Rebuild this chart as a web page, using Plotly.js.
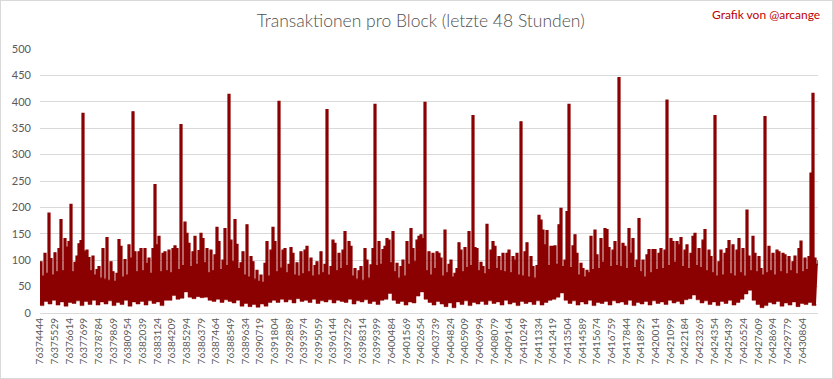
<!DOCTYPE html>
<html>
<head>
<meta charset="utf-8">
<script src="https://cdn.plot.ly/plotly-3.0.1.min.js"></script>
<style>
  html, body { margin: 0; padding: 0; background: #fff; }
  #chart { width: 833px; height: 379px; }
  #frame { position: absolute; left: 0; top: 0; width: 833px; height: 379px; box-sizing: border-box; border: 1px solid #d9d9d9; pointer-events: none; }
</style>
</head>
<body>
<div id="chart"></div>
<div id="frame"></div>
<script>
// ---- data ----
const chartTitle = "Transaktionen pro Block (letzte 48 Stunden)";
const creditText = "Grafik von @arcange";

const firstBlock = 76374444;
const highStep = 148;   // blocks between samples of the upper envelope
const lowStep = 296;    // blocks between samples of the lower envelope

// upper envelope (transactions per block, peaks)
const highs = [
  97,70,113,75,189,103,72,114,78,122,
  177,80,141,125,135,206,78,96,108,131,
  137,378,117,119,105,80,108,72,82,88,
  66,122,64,143,62,97,78,60,75,139,
  126,68,101,72,129,104,381,116,78,116,
  122,80,122,94,104,75,122,243,129,145,
  78,113,116,80,119,76,122,127,122,82,
  357,90,172,151,132,88,116,145,92,118,
  151,141,95,122,76,119,80,110,162,135,
  82,100,160,90,414,138,98,177,130,84,
  95,116,72,167,68,107,97,64,81,60,
  72,58,94,135,70,119,162,135,78,401,
  85,119,122,76,92,124,113,72,95,70,
  116,74,119,126,78,104,70,90,97,72,
  116,76,92,385,72,88,138,132,80,113,
  84,119,154,90,135,126,70,84,64,80,
  88,62,122,100,66,91,122,395,90,135,
  92,120,126,141,138,95,154,78,94,66,
  88,100,70,135,92,160,122,98,138,145,
  148,141,399,80,116,72,113,84,116,113,
  104,70,157,76,92,100,68,75,84,133,
  119,78,124,86,154,90,374,124,122,80,
  96,88,74,168,82,119,135,126,84,107,
  80,113,78,113,119,76,107,100,113,72,
  362,70,116,133,68,107,88,66,90,185,
  176,157,129,156,90,126,126,127,92,167,
  198,88,100,192,395,86,127,148,113,72,
  94,84,68,81,76,145,82,157,110,84,
  141,96,160,158,124,88,119,135,90,446,
  88,132,126,84,160,113,141,86,100,179,
  78,100,68,110,120,76,120,120,82,113,
  122,84,119,403,90,141,135,96,135,129,
  143,88,119,129,84,113,145,151,90,122,
  86,138,158,80,119,107,76,374,70,97,
  119,72,113,122,137,74,129,70,119,141,
  76,122,70,195,108,80,145,113,78,107,
  84,72,372,76,126,80,113,72,119,116,
  78,113,110,74,107,80,97,108,74,122,
  136,78,104,82,107,265,416,104,92,100
];

// lower envelope (transactions per block, minima)
const lows = [
  14,22,17,24,15,21,13,20,18,23,14,22,16,24,15,21,
  17,23,14,20,16,24,13,21,17,22,15,23,18,21,14,24,
  24,33,26,28,40,30,27,31,29,30,24,22,26,20,25,22,19,24,
  13,18,12,16,11,17,13,20,
  24,20,26,21,25,19,27,22,24,20,26,18,23,21,25,19,24,22,20,26,17,23,21,25,18,22,16,24,
  26,37,24,
  18,22,15,21,19,
  32,40,26,
  20,15,22,17,12,19,10,21,16,23,14,20,17,
  22,16,23,18,21,15,24,17,20,14,22,18,21,16,23,15,20,24,26,
  30,38,24,
  18,23,15,21,17,24,14,20,18,22,15,23,19,21,16,24,14,20,17,22,15,23,18,21,16,24,19,22,17,25,
  27,34,25,
  19,23,16,21,14,22,18,24,15,20,26,
  36,43,24,
  16,10,14,20,17,22,13,19,15,21,12,18,16,20,14,17
];

const tickBlocks = [
  76374444,76375529,76376614,76377699,76378784,76379869,76380954,76382039,76383124,76384209,
  76385294,76386379,76387464,76388549,76389634,76390719,76391804,76392889,76393974,76395059,
  76396144,76397229,76398314,76399399,76400484,76401569,76402654,76403739,76404824,76405909,
  76406994,76408079,76409164,76410249,76411334,76412419,76413504,76414589,76415674,76416759,
  76417844,76418929,76420014,76421099,76422184,76423269,76424354,76425439,76426524,76427609,
  76428694,76429779,76430864
];
const tickLabels = tickBlocks.map(String);

// ---- build traces ----
const highX = highs.map((_, i) => firstBlock + i * highStep);
const lowX = lows.map((_, i) => firstBlock + i * lowStep);
const red = "#8b0000";
const font = "Lato, 'Open Sans', sans-serif";

const traces = [
  { x: lowX, y: lows, type: "scatter", mode: "lines",
    line: { color: red, width: 0.5, shape: "hv" }, hoverinfo: "skip", showlegend: false },
  { x: highX, y: highs, type: "scatter", mode: "lines", fill: "tonexty",
    fillcolor: red, line: { color: red, width: 1.2, shape: "hv" }, showlegend: false,
    name: "Transaktionen" }
];

const layout = {
  width: 833, height: 379,
  margin: { l: 40, r: 15, t: 49, b: 66 },
  paper_bgcolor: "#ffffff", plot_bgcolor: "#ffffff",
  font: { family: font, color: "#595959" },
  title: { text: chartTitle, font: { family: font, size: 17.5, weight: 300, color: "#505050" },
           xref: "container", x: 0.505, xanchor: "center",
           yref: "container", y: 0.945, yanchor: "middle" },
  xaxis: {
    range: [firstBlock, highX[highX.length - 1]],
    tickmode: "array", tickvals: tickBlocks, ticktext: tickLabels,
    tickangle: -90, tickfont: { family: font, size: 10, color: "#595959" },
    showgrid: false, zeroline: false, showline: true, linecolor: "#d9d9d9", linewidth: 1,
    ticks: "", fixedrange: true
  },
  yaxis: {
    range: [0, 500], dtick: 50, tick0: 0,
    gridcolor: "#d9d9d9", gridwidth: 1, zeroline: false, showline: false,
    ticks: "", ticklabelstandoff: 8,
    tickfont: { family: font, size: 11, color: "#595959" }, fixedrange: true
  },
  annotations: [
    { text: creditText, xref: "paper", yref: "paper", x: 1.005, y: 1.129,
      xanchor: "right", yanchor: "middle", showarrow: false,
      font: { family: font, size: 12, color: "#c00000" } }
  ]
};

Plotly.newPlot("chart", traces, layout, { staticPlot: true, displayModeBar: false });
</script>
</body>
</html>
